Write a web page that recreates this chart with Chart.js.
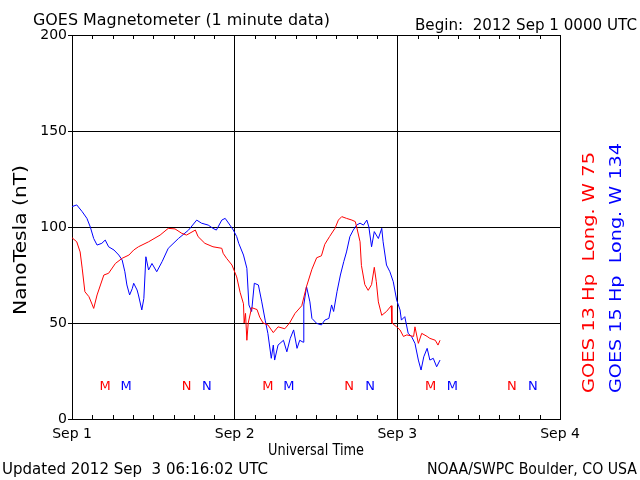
<!DOCTYPE html>
<html><head><meta charset="utf-8">
<script src="https://cdn.jsdelivr.net/npm/chart.js@4/dist/chart.umd.min.js"></script>
<style>html,body{margin:0;padding:0;background:#fff}#wrap{width:640px;height:480px;position:relative}</style>
</head><body><div id="wrap"><canvas id="c" width="640" height="480"></canvas></div>
<script>
// ---- data (hours since 2012 Sep 1 0000 UTC) ----
const xTickLabels = ['Sep 1', 'Sep 2', 'Sep 3', 'Sep 4'];
const hoursRed = [0,0.7,1.2,1.5,1.9,2.5,3.0,3.2,3.7,4.2,4.7,5.4,6.4,7.4,8.4,9.1,9.8,11.3,13.0,14.2,15.2,16.2,16.9,18.2,18.6,19.6,20.8,22.1,22.3,22.8,23.6,24.3,24.8,25.3,25.4,25.6,25.8,26.0,26.5,27.3,27.7,28.2,28.9,29.7,30.4,31.4,32.1,32.9,33.9,34.6,35.4,36.1,36.8,37.3,38.0,38.8,39.3,39.8,40.5,41.3,41.8,42.0,42.5,42.7,43.2,43.7,44.2,44.6,44.9,45.2,45.7,46.4,47.1,47.2,47.9,48.4,48.9,49.4,50.4,50.6,51.1,51.6,52.4,52.8,53.6,54.0,54.3];
const valuesRed = [94.4,92.3,87,78.6,66.3,63.7,59.4,57.6,64.6,69.8,75,75.9,81,83.7,85.4,88,89.7,92.3,95.8,99.3,99,96.7,95.8,98.4,95,91.5,89.7,88.9,86.3,83.7,80.2,74,66,60,50,55,41,50,58,57,53,50,49,45,48,47,50,55,59,69,78,84,85,91,95,99.3,103.6,105.4,104.5,103.6,102.8,100,92.3,80,70,67,70,79,71.5,61,54,56,59,50,48,46.4,43,43.8,43,48,39.4,44.6,43,42,41,38.5,41];
const hoursBlue = [0,0.7,1.5,2.2,2.7,3.2,3.7,4.4,4.9,5.4,6.2,6.9,7.4,7.8,8.1,8.5,8.9,9.1,9.6,9.8,10.3,10.6,10.9,11.3,11.8,12.5,13.3,14.2,15.7,17.2,18.4,19.1,20.1,20.8,21.3,22.1,22.6,23.3,23.8,24.3,24.6,25.3,25.8,26.1,26.5,26.9,27.5,28.0,28.5,28.9,29.4,29.7,29.9,30.4,31.2,31.7,32.2,32.7,33.2,33.6,34.1,34.2,34.6,35.1,35.4,36.1,36.8,37.3,37.9,38.3,38.6,39.1,39.6,40.1,40.5,41.0,41.5,42.0,42.5,43.0,43.5,43.8,44.2,44.6,45.2,45.7,45.9,46.4,46.9,47.4,47.9,48.4,48.6,49.1,49.6,50.1,50.6,51.1,51.5,51.9,52.4,52.8,53.3,53.8,54.3];
const valuesBlue = [110.6,111.5,108,104.5,100,94,90.6,91.5,93.2,89.7,88,85.4,82.8,76.7,69.8,64.6,68,70.7,67.2,64.6,56.8,62.8,84.5,77.6,81,76.7,82,88.9,94,98.4,103.6,102,101,99.3,98.4,103.6,104.5,101,98.4,95,91.5,85.4,78.5,59.4,56,70.7,69.8,61,51.5,44.6,31.6,38.5,30.7,38.5,41,35,42,46.4,36.8,41,40,59.4,69,61,52.4,49.8,49,51.5,52.4,59.4,56,66.3,75,82,87,95,98.4,101,102,101,103.6,100,89.7,97.6,94,99.3,92.3,80.2,76.7,71.5,62,56.8,51.5,53.3,44.6,42.9,39.4,30.7,25.5,32.4,36.8,30.7,31.6,27.2,30.7];
// local midnight (M) / noon (N) markers
const markerRedHours = [4.9, 16.9, 28.9, 40.9, 52.9, 64.9];
const markerRedText = ['M', 'N', 'M', 'N', 'M', 'N'];
const markerBlueHours = [8.0, 19.9, 32.0, 44.0, 56.1, 68.0];
const markerBlueText = ['M', 'N', 'M', 'N', 'M', 'N'];
const markerLevel = 17;

const RED = '#ff0000', BLUE = '#0000ff';
const FONT = '"DejaVu Sans", sans-serif';

function fitText(ctx, str, x, y, w, align, rot) {
  ctx.save();
  ctx.translate(x, y);
  if (rot) ctx.rotate(rot);
  const m = ctx.measureText(str).width;
  ctx.scale(w / m, 1);
  ctx.textAlign = align;
  ctx.fillText(str, 0, 0);
  ctx.restore();
}

const decor = {
  id: 'decor',
  afterDatasetsDraw(chart) {
    const ctx = chart.ctx, xs = chart.scales.x, ys = chart.scales.y, ca = chart.chartArea;
    ctx.save();
    // minor ticks every 3 hours, inside top and bottom borders
    ctx.strokeStyle = '#000'; ctx.lineWidth = 1;
    for (let h = 3; h < 72; h += 3) {
      if (h % 24 === 0) continue;
      const px = Math.round(xs.getPixelForValue(h)) + 0.5;
      ctx.beginPath();
      ctx.moveTo(px, ca.bottom); ctx.lineTo(px, ca.bottom - 4);
      ctx.moveTo(px, ca.top); ctx.lineTo(px, ca.top + 4);
      ctx.stroke();
    }
    // M / N markers
    ctx.font = '13px ' + FONT;
    ctx.textAlign = 'center'; ctx.textBaseline = 'middle';
    const my = ys.getPixelForValue(markerLevel);
    ctx.fillStyle = RED;
    markerRedHours.forEach((h, i) => ctx.fillText(markerRedText[i], xs.getPixelForValue(h), my));
    ctx.fillStyle = BLUE;
    markerBlueHours.forEach((h, i) => ctx.fillText(markerBlueText[i], xs.getPixelForValue(h), my));
    // texts
    ctx.fillStyle = '#000'; ctx.textBaseline = 'alphabetic';
    ctx.font = '16px ' + FONT;
    fitText(ctx, 'GOES Magnetometer (1 minute data)', 33, 25, 297, 'left');
    ctx.font = '15px ' + FONT;
    fitText(ctx, 'Begin:  2012 Sep 1 0000 UTC', 637, 30, 222, 'right');
    fitText(ctx, 'Updated 2012 Sep  3 06:16:02 UTC', 2, 474, 266, 'left');
    fitText(ctx, 'NOAA/SWPC Boulder, CO USA', 637, 474, 210, 'right');
    fitText(ctx, 'Universal Time', 316, 455, 96, 'center');
    ctx.font = '18px ' + FONT;
    ctx.textBaseline = 'middle';
    fitText(ctx, 'NanoTesla (nT)', 21, 240, 150, 'center', -Math.PI / 2);
    ctx.font = '16px ' + FONT;
    ctx.fillStyle = RED;
    fitText(ctx, 'GOES 13 Hp  Long. W 75', 590, 393, 241, 'left', -Math.PI / 2);
    ctx.fillStyle = BLUE;
    fitText(ctx, 'GOES 15 Hp  Long. W 134', 617, 393, 250, 'left', -Math.PI / 2);
    ctx.restore();
  }
};

new Chart(document.getElementById('c'), {
  type: 'line',
  data: {
    datasets: [
      { label: 'GOES 13', data: hoursRed.map((h, i) => ({ x: h, y: valuesRed[i] })), borderColor: RED, borderWidth: 1, pointRadius: 0, tension: 0, fill: false },
      { label: 'GOES 15', data: hoursBlue.map((h, i) => ({ x: h, y: valuesBlue[i] })), borderColor: BLUE, borderWidth: 1, pointRadius: 0, tension: 0, fill: false }
    ]
  },
  options: {
    responsive: false, animation: false, devicePixelRatio: 1,
    layout: { padding: { left: 0, right: 80, top: 35, bottom: 0 } },
    plugins: { legend: { display: false }, tooltip: { enabled: false } },
    scales: {
      x: {
        type: 'linear', min: 0, max: 72,
        afterFit: s => { s.height = 61; },
        ticks: { stepSize: 24, color: '#000', font: { family: FONT, size: 14 }, padding: 7, maxRotation: 0,
          callback: v => xTickLabels[v / 24] },
        grid: { color: '#000', lineWidth: 1, drawTicks: false },
        border: { color: '#000', width: 1 }
      },
      y: {
        min: 0, max: 200,
        afterFit: s => { s.width = 72; },
        ticks: { stepSize: 50, color: '#000', font: { family: FONT, size: 14 }, padding: 1 },
        grid: { color: '#000', lineWidth: 1, drawTicks: true, tickLength: 4 },
        border: { color: '#000', width: 1 }
      }
    }
  },
  plugins: [decor]
});
</script>
</body></html>
